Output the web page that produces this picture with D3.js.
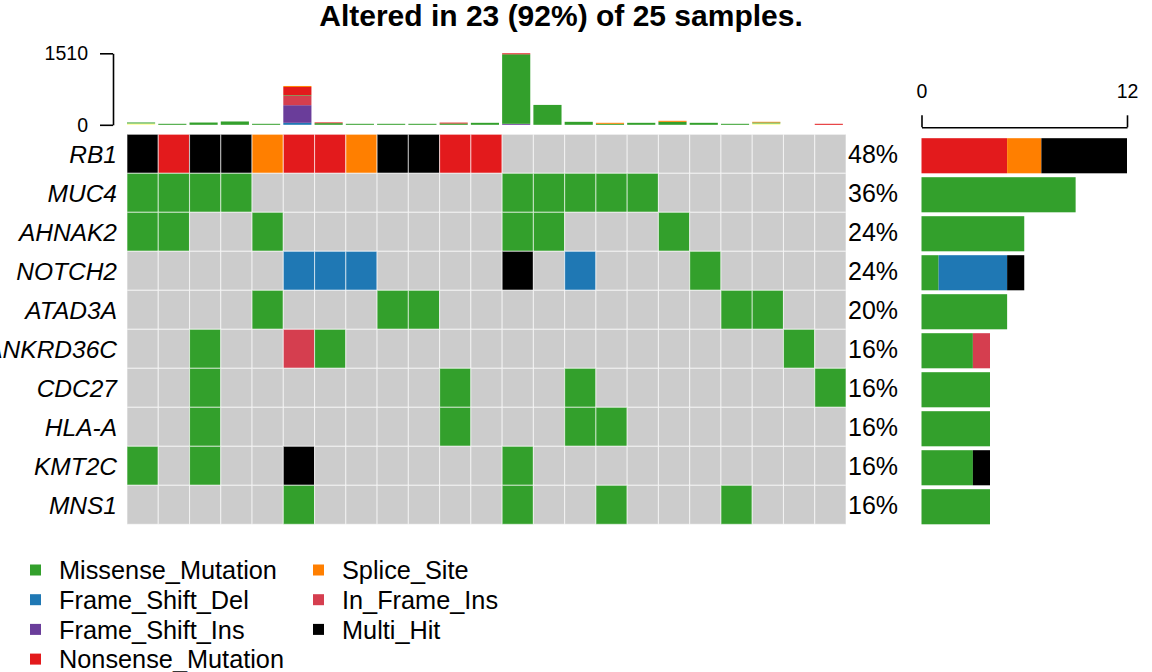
<!DOCTYPE html>
<html>
<head>
<meta charset="utf-8">
<script src="https://cdn.jsdelivr.net/npm/d3@7"></script>
<style>
  body { margin: 0; background: #fff; }
  text { font-family: "Liberation Sans", Arial, sans-serif; }
</style>
</head>
<body>
<div id="plot"></div>
<script>
// genes, top to bottom
var genes = ["RB1", "MUC4", "AHNAK2", "NOTCH2", "ATAD3A", "ANKRD36C", "CDC27", "HLA-A", "KMT2C", "MNS1"];
var totalSamples = 25;

// legend order and colours
var classNames = ["Missense_Mutation", "Frame_Shift_Del", "Frame_Shift_Ins", "Nonsense_Mutation",
                  "Splice_Site", "In_Frame_Ins", "Multi_Hit"];
var classCodes = ["M", "D", "I", "N", "S", "F", "H"];
var classColors = ["#33A02C", "#1F78B4", "#6A3D9A", "#E31A1C", "#FF7F00", "#D53E4F", "#000000"];

// one code per altered sample (23 columns), "." = not altered
var rowRB1      = ["H","N","H","H","S","N","N","S","H","H","N","N",".",".",".",".",".",".",".",".",".",".","."];
var rowMUC4     = ["M","M","M","M",".",".",".",".",".",".",".",".","M","M","M","M","M",".",".",".",".",".","."];
var rowAHNAK2   = ["M","M",".",".","M",".",".",".",".",".",".",".","M","M",".",".",".","M",".",".",".",".","."];
var rowNOTCH2   = [".",".",".",".",".","D","D","D",".",".",".",".","H",".","D",".",".",".","M",".",".",".","."];
var rowATAD3A   = [".",".",".",".","M",".",".",".","M","M",".",".",".",".",".",".",".",".",".","M","M",".","."];
var rowANKRD36C = [".",".","M",".",".","F","M",".",".",".",".",".",".",".",".",".",".",".",".",".",".","M","."];
var rowCDC27    = [".",".","M",".",".",".",".",".",".",".","M",".",".",".","M",".",".",".",".",".",".",".","M"];
var rowHLAA     = [".",".","M",".",".",".",".",".",".",".","M",".",".",".","M","M",".",".",".",".",".",".","."];
var rowKMT2C    = ["M",".","M",".",".","H",".",".",".",".",".",".","M",".",".",".",".",".",".",".",".",".","."];
var rowMNS1     = [".",".",".",".",".","M",".",".",".",".",".",".","M",".",".","M",".",".",".","M",".",".","."];
var rows = [rowRB1, rowMUC4, rowAHNAK2, rowNOTCH2, rowATAD3A, rowANKRD36C, rowCDC27, rowHLAA, rowKMT2C, rowMNS1];

// variants per sample (top bar), stacked bottom to top in this order
var tmbClasses = ["Frame_Shift_Del", "Frame_Shift_Ins", "In_Frame_Del", "In_Frame_Ins",
                  "Missense_Mutation", "Nonsense_Mutation", "Splice_Site"];
var tmbColors = ["#1F78B4", "#6A3D9A", "#FFFF99", "#D53E4F", "#33A02C", "#E31A1C", "#FF7F00"];
var tmbFrameShiftDel = [0,0,0,0,0,42,0,0,0,0,0,0,0,0,0,0,0,0,0,0,0,0,0];
var tmbFrameShiftIns = [0,0,0,0,0,372,0,0,0,0,0,0,21,0,0,0,0,0,0,0,0,0,0];
var tmbInFrameDel    = [28,0,0,0,0,0,0,0,0,0,0,0,0,0,0,0,0,0,0,0,28,0,0];
var tmbInFrameIns    = [0,0,0,0,0,196,0,0,0,0,0,0,0,0,0,0,0,0,0,0,0,0,0];
var tmbMissense      = [21,21,48,70,21,14,35,21,21,21,28,42,1468,420,63,21,42,63,42,21,21,0,0];
var tmbNonsense      = [0,0,0,0,0,175,15,0,0,0,18,0,21,0,0,0,0,0,0,0,0,0,21];
var tmbSplice        = [0,0,0,0,0,21,0,0,0,0,0,0,0,0,0,21,0,21,0,0,14,0,0];
var tmbMax = 1510;
var rightMax = 12;

var W = 1152, H = 672;
var svg = d3.select("#plot").append("svg").attr("width", W).attr("height", H);
svg.append("rect").attr("width", W).attr("height", H).attr("fill", "#fff");

var nCols = rowRB1.length;
var x = d3.scaleBand().domain(d3.range(nCols)).range([127, 846]);
var y = d3.scaleBand().domain(genes).range([134.3, 524.3]);
var yTop = d3.scaleLinear().domain([0, tmbMax]).range([124.8, 53.3]);
var xRight = d3.scaleLinear().domain([0, rightMax]).range([921.5, 1127]);

// title
svg.append("text")
  .attr("x", 561).attr("y", 26)
  .attr("text-anchor", "middle")
  .attr("font-size", 30).attr("font-weight", "bold")
  .text("Altered in 23 (92%) of 25 samples.");

// top bar: stacked variants per sample
var tmbTable = d3.range(nCols).map(function (i) {
  return {
    Frame_Shift_Del: tmbFrameShiftDel[i], Frame_Shift_Ins: tmbFrameShiftIns[i],
    In_Frame_Del: tmbInFrameDel[i], In_Frame_Ins: tmbInFrameIns[i],
    Missense_Mutation: tmbMissense[i], Nonsense_Mutation: tmbNonsense[i],
    Splice_Site: tmbSplice[i], col: i
  };
});
var stacked = d3.stack().keys(tmbClasses)(tmbTable);
svg.append("g").selectAll("g")
  .data(stacked)
  .enter().append("g")
  .attr("fill", function (d, k) { return tmbColors[k]; })
  .selectAll("rect")
  .data(function (d) { return d; })
  .enter().append("rect")
  .attr("x", function (d) { return x(d.data.col); })
  .attr("width", x.bandwidth() * 0.9)
  .attr("y", function (d) { return yTop(d[1]); })
  .attr("height", function (d) { return yTop(d[0]) - yTop(d[1]); });

var topAxis = svg.append("g").attr("transform", "translate(113,0)")
  .call(d3.axisLeft(yTop).tickValues([0, tmbMax]).tickSize(13).tickSizeOuter(0).tickFormat(d3.format("d")));
topAxis.select(".domain").attr("stroke-width", 1.6);
topAxis.selectAll(".tick line").attr("stroke-width", 1.6);
topAxis.selectAll("text").attr("font-size", 19.5).attr("x", -25).attr("fill", "#000")
  .style("font-family", "Liberation Sans, Arial, sans-serif");

// oncoplot grid
var cells = [];
rows.forEach(function (r, g) {
  r.forEach(function (c, i) {
    cells.push({ gene: genes[g], col: i, code: c });
  });
});
svg.append("g").selectAll("rect")
  .data(cells)
  .enter().append("rect")
  .attr("x", function (d) { return x(d.col); })
  .attr("y", function (d) { return y(d.gene); })
  .attr("width", x.bandwidth())
  .attr("height", y.bandwidth())
  .attr("fill", function (d) {
    var k = classCodes.indexOf(d.code);
    return k < 0 ? "#CCCCCC" : classColors[k];
  })
  .attr("stroke", "#fff")
  .attr("stroke-opacity", 0.55)
  .attr("stroke-width", 1.1);

// gene names
svg.append("g").selectAll("text")
  .data(genes)
  .enter().append("text")
  .attr("x", 117)
  .attr("y", function (d) { return y(d) + y.bandwidth() / 2; })
  .attr("dy", "0.36em")
  .attr("text-anchor", "end")
  .attr("font-size", 24.5)
  .attr("font-style", "italic")
  .text(function (d) { return d; });

// counts per gene and class
var counts = rows.map(function (r, g) {
  var o = { gene: genes[g] };
  classNames.forEach(function (n, k) {
    o[n] = r.filter(function (c) { return c === classCodes[k]; }).length;
  });
  o.total = r.filter(function (c) { return c !== "."; }).length;
  return o;
});

// percentages
svg.append("g").selectAll("text")
  .data(counts)
  .enter().append("text")
  .attr("x", 848)
  .attr("y", function (d) { return y(d.gene) + y.bandwidth() / 2; })
  .attr("dy", "0.36em")
  .attr("font-size", 25)
  .text(function (d) { return Math.round(d.total / totalSamples * 100) + "%"; });

// right bar
var rightStack = d3.stack().keys(classNames)(counts);
svg.append("g").selectAll("g")
  .data(rightStack)
  .enter().append("g")
  .attr("fill", function (d, k) { return classColors[k]; })
  .selectAll("rect")
  .data(function (d) { return d; })
  .enter().append("rect")
  .attr("x", function (d) { return xRight(d[0]); })
  .attr("width", function (d) { return xRight(d[1]) - xRight(d[0]); })
  .attr("y", function (d) { return y(d.data.gene) + y.bandwidth() * 0.1; })
  .attr("height", y.bandwidth() * 0.9);

var rightAxis = svg.append("g").attr("transform", "translate(0,127.3)")
  .call(d3.axisTop(xRight).tickValues([0, rightMax]).tickSize(12).tickSizeOuter(0));
rightAxis.select(".domain").attr("stroke-width", 1.6);
rightAxis.selectAll(".tick line").attr("stroke-width", 1.6);
rightAxis.selectAll("text").attr("font-size", 19.5).attr("y", -29).attr("fill", "#000")
  .style("font-family", "Liberation Sans, Arial, sans-serif");

// legend
var legend = svg.append("g").selectAll("g")
  .data(classNames)
  .enter().append("g")
  .attr("transform", function (d, i) {
    var colX = i < 4 ? 30 : 313;
    var rowY = 570 + (i < 4 ? i : i - 4) * 29.7;
    return "translate(" + colX + "," + rowY + ")";
  });
legend.append("rect")
  .attr("x", 0).attr("y", -5.5)
  .attr("width", 11).attr("height", 11)
  .attr("fill", function (d, i) { return classColors[i]; });
legend.append("text")
  .attr("x", 29)
  .attr("dy", "0.36em")
  .attr("font-size", 25.3)
  .text(function (d) { return d; });
</script>
</body>
</html>
